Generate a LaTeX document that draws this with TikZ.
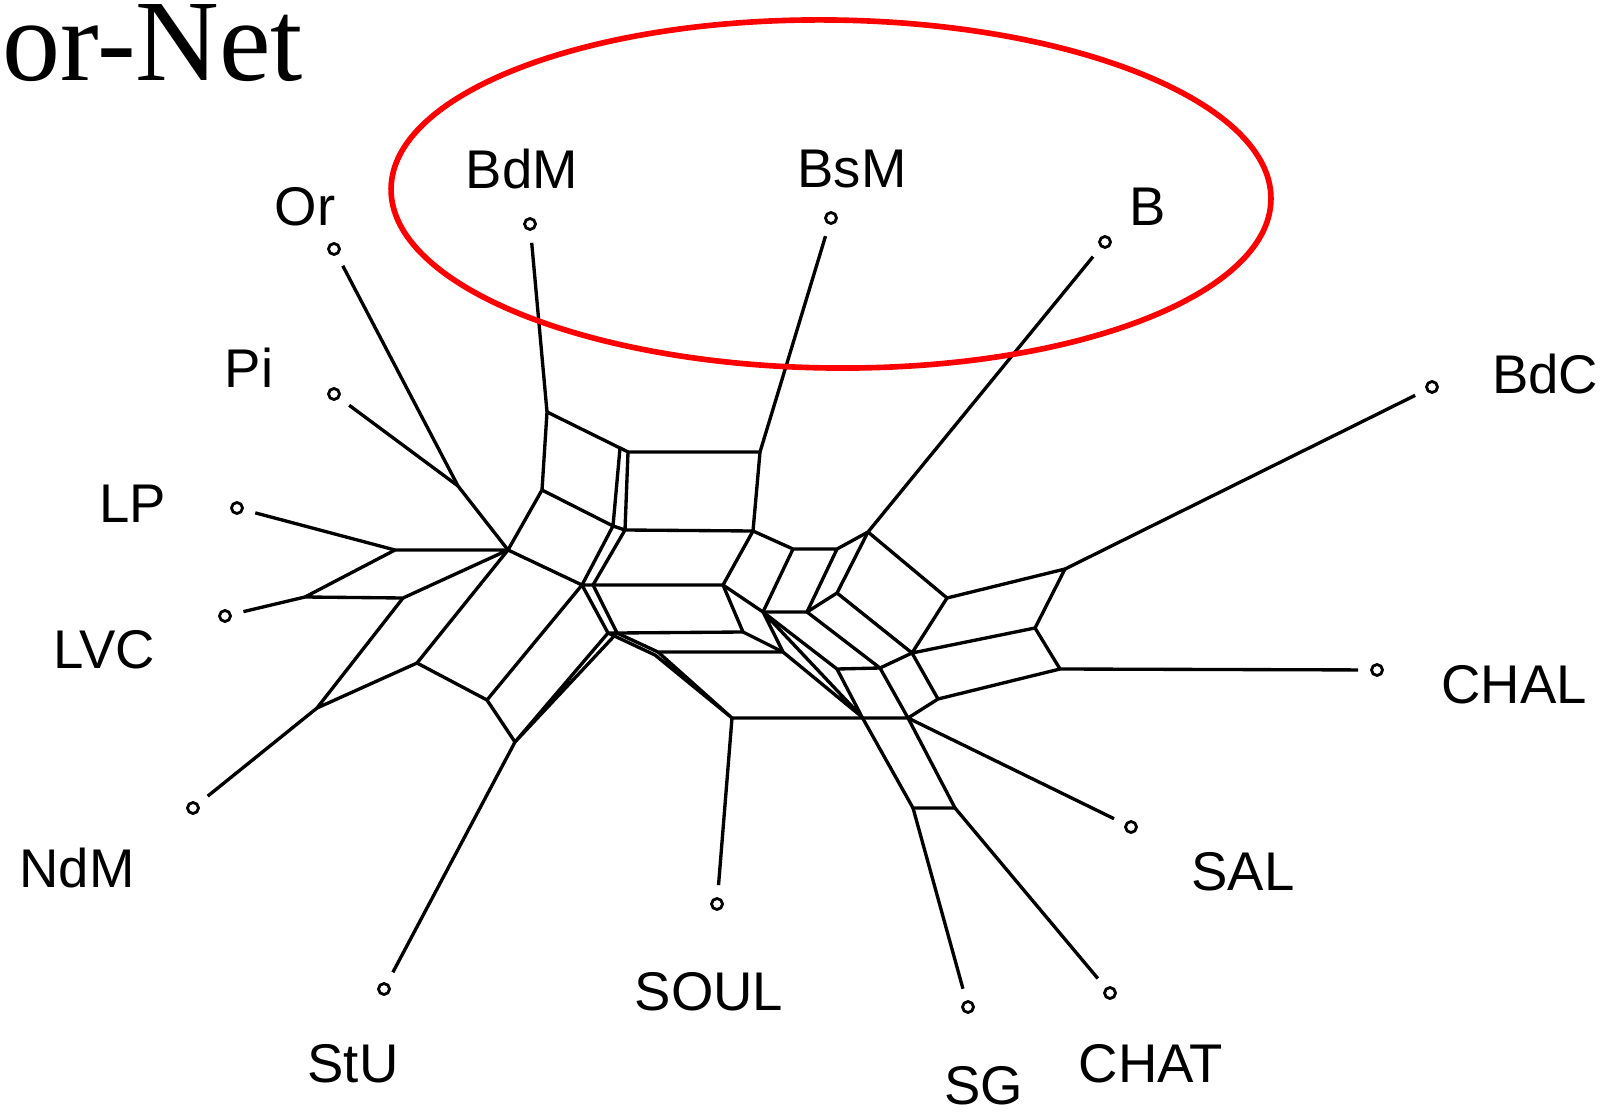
\documentclass[tikz,border=0pt]{standalone}
\usepackage{fontspec}
\setmainfont{Liberation Serif}
\newfontfamily\taxonfont{Liberation Sans}
\usetikzlibrary{positioning}

\begin{document}
\begin{tikzpicture}[x=0.01cm, y=-0.01cm, line width=0.95pt, line join=round,
    leaf/.style={circle, draw, line width=0.8pt, minimum size=0.11cm, inner sep=0pt},
    taxon/.style={font=\taxonfont\fontsize{15.5}{18}\selectfont, inner sep=0pt},
    toleaf/.style={shorten >=0.12cm},
    ring/.style={draw=red, line width=1.6pt}]
  \useasboundingbox (0,0) rectangle (1604,1113);
  \clip (0,0) rectangle (1604,1113);

  \node[anchor=base west, inner sep=0pt, font=\fontsize{33}{36}\selectfont] (title) at (1,81) {or-Net};

  % taxa
  \node[leaf] (Or)   at (334,249) {};
  \node[leaf] (BdM)  at (530,224) {};
  \node[leaf] (BsM)  at (831,218) {};
  \node[leaf] (B)    at (1105,242) {};
  \node[leaf] (BdC)  at (1432,387) {};
  \node[leaf] (CHAL) at (1377,670) {};
  \node[leaf] (SAL)  at (1131,827) {};
  \node[leaf] (CHAT) at (1110,993) {};
  \node[leaf] (SG)   at (968,1007) {};
  \node[leaf] (SOUL) at (717,904) {};
  \node[leaf] (StU)  at (384,989) {};
  \node[leaf] (NdM)  at (193,808) {};
  \node[leaf] (LVC)  at (225,616) {};
  \node[leaf] (LP)   at (237,508) {};
  \node[leaf] (Pi)   at (334,394) {};

  \node[taxon] (OrName)   at (305,207)  {Or};
  \node[taxon] (BdMName)  at (522,169)  {BdM};
  \node[taxon] (BsMName)  at (852,169)  {BsM};
  \node[taxon] (BName)    at (1148,207) {B};
  \node[taxon] (BdCName)  at (1545,374) {BdC};
  \node[taxon] (CHALName) at (1514,685) {CHAL};
  \node[taxon] (SALName)  at (1243,872) {SAL};
  \node[taxon] (CHATName) at (1151,1064) {CHAT};
  \node[taxon] (SGName)   at (984,1086) {SG};
  \node[taxon] (SOULName) at (709,992)  {SOUL};
  \node[taxon] (StUName)  at (353,1064) {StU};
  \node[taxon] (NdMName)  at (77,868)   {NdM};
  \node[taxon] (LVCName)  at (104,650)  {LVC};
  \node[taxon] (LPName)   at (133,504)  {LP};
  \node[taxon] (PiName)   at (249,368)  {Pi};

  % splits graph
  \coordinate (jOP)   at (458,486);
  \coordinate (hub)   at (508,550);
  \coordinate (lpA)   at (395,550);
  \coordinate (lvcA)  at (305,597);
  \coordinate (lvcB)  at (403,598);
  \coordinate (ndmA)  at (317,708);
  \coordinate (ndmB)  at (417,663);
  \coordinate (stuA)  at (487,700);
  \coordinate (stuB)  at (515,742);
  \coordinate (bdmA)  at (547,412);
  \coordinate (bdmB)  at (542,490);
  \coordinate (sLT)   at (620,448);
  \coordinate (sRT)   at (628,452);
  \coordinate (sLB)   at (613,526);
  \coordinate (sRB)   at (625,530);
  \coordinate (cA)    at (582,585);
  \coordinate (cB)    at (593,585);
  \coordinate (cC)    at (608,633);
  \coordinate (cD)    at (617,633);
  \coordinate (bsmA)  at (760,452);
  \coordinate (bsmB)  at (753,531);
  \coordinate (mA)    at (723,585);
  \coordinate (mB)    at (743,632);
  \coordinate (mC)    at (763,612);
  \coordinate (mD)    at (807,612);
  \coordinate (mE)    at (837,593);
  \coordinate (mF)    at (793,549);
  \coordinate (mG)    at (837,549);
  \coordinate (bA)    at (868,532);
  \coordinate (mH)    at (837,669);
  \coordinate (mI)    at (862,717);
  \coordinate (pA)    at (783,652);
  \coordinate (pB)    at (658,652);
  \coordinate (pC)    at (655,655);
  \coordinate (soulA) at (732,718);
  \coordinate (rA)    at (947,598);
  \coordinate (rB)    at (1065,569);
  \coordinate (rC)    at (912,653);
  \coordinate (rD)    at (1035,628);
  \coordinate (rE)    at (1060,669);
  \coordinate (rF)    at (880,668);
  \coordinate (rG)    at (938,699);
  \coordinate (rH)    at (908,718);
  \coordinate (sgA)   at (913,808);
  \coordinate (sgB)   at (955,808);

  % pendant edges
  \path[draw, toleaf]
        (jOP) edge (Or)   (jOP) edge (Pi)   (lpA) edge (LP)
        (lvcA) edge (LVC) (ndmA) edge (NdM) (stuB) edge (StU)
        (bdmA) edge (BdM) (bsmA) edge (BsM) (bA) edge (B)
        (rB) edge (BdC)   (rE) edge (CHAL)  (rH) edge (SAL)
        (sgA) edge (SG)   (sgB) edge (CHAT) (soulA) edge (SOUL);

  % left boxes
  \draw (jOP) -- (hub);
  \draw (lpA) -- (hub) (lpA) -- (lvcA) -- (lvcB) -- (hub);
  \draw (lvcB) -- (ndmA) -- (ndmB) -- (hub);
  \draw (ndmB) -- (stuA) -- (stuB) (stuA) -- (cA) -- (hub);
  \draw (stuB) -- (cC) (stuB) -- (cD);

  % upper boxes
  \draw (hub) -- (bdmB) -- (bdmA) -- (sLT) -- (sRT);
  \draw (bdmB) -- (sLB) (sLT) -- (sLB) -- (cA) (sRT) -- (sRB) -- (cB);
  \draw (sLB) -- (sRB) (cA) -- (cB) (cA) -- (cC) (cB) -- (cD) (cC) -- (cD);
  \draw (sRT) -- (bsmA) -- (bsmB) -- (sRB);
  \draw (cB) -- (mA) -- (bsmB);
  \draw (cD) -- (mB) -- (mA);
  \draw (cD) -- (pB) -- (pA) -- (mB);
  \draw (cC) -- (pC) -- (soulA) (pB) -- (soulA) -- (rH);

  % middle boxes
  \draw (mA) -- (mC) -- (mD) -- (mE) -- (bA);
  \draw (bsmB) -- (mF) -- (mG) -- (bA) (mF) -- (mC) (mG) -- (mD);
  \draw (mC) -- (mH) -- (rF) -- (mD);
  \draw (mC) -- (pA) -- (mI) (mC) -- (mI) (mH) -- (mI);

  % right boxes
  \draw (bA) -- (rA) -- (rB) -- (rD) -- (rE);
  \draw (rA) -- (rC) -- (rD) (mE) -- (rC);
  \draw (rF) -- (rC) -- (rG) -- (rE) (rG) -- (rH) -- (rF);
  \draw (mI) -- (sgA) -- (sgB) -- (rH);

  % highlighted group
  \draw[ring, rotate around={-0.7:(831,194)}] (831,194) ellipse (440 and 174);
\end{tikzpicture}
\end{document}
